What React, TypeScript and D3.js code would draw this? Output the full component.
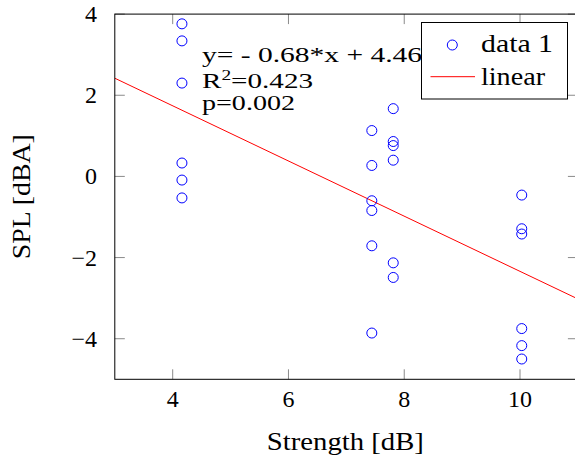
import React from "react";
import * as d3 from "d3";

const strength: number[] = [
  4.16, 4.16, 4.16, 4.16, 4.16, 4.16,
  7.44, 7.44, 7.44, 7.44, 7.44, 7.44,
  7.81, 7.81, 7.81, 7.81, 7.81, 7.81,
  10.03, 10.03, 10.03, 10.03, 10.03, 10.03,
];
const spl: number[] = [
  3.76, 3.34, 2.3, 0.33, -0.09, -0.53,
  1.13, 0.27, -0.6, -0.84, -1.71, -3.86,
  1.67, 0.86, 0.76, 0.4, -2.13, -2.49,
  -0.46, -1.29, -1.42, -3.75, -4.17, -4.5,
];
const slope = -0.68;
const intercept = 4.46;
const xTicks: number[] = [4, 6, 8, 10];
const yTicks: number[] = [-4, -2, 0, 2, 4];
const annotationLines: string[] = ["y= - 0.68*x + 4.46", "R", "p=0.002"];
const legendLabels: string[] = ["data 1", "linear"];

const W = 575;
const H = 463;
const FONT = "Liberation Serif, DejaVu Serif, serif";

export default function App() {
  const x = d3.scaleLinear().domain([3, 11]).range([114.8, 577.9]);
  const y = d3.scaleLinear().domain([-5, 4]).range([379.3, 14.1]);
  const [x0, x1] = x.range();
  const [yb, yt] = y.range();
  const lineGen = d3
    .line<number>()
    .x((d) => x(d))
    .y((d) => y(slope * d + intercept));
  const fmt = (v: number) => (v < 0 ? "\u2212" + Math.abs(v) : String(v));
  const tickLen = 10;
  const ts: React.CSSProperties = { fontFamily: FONT };

  return (
    <svg
      width={W}
      height={H}
      style={{ position: "absolute", left: 0, top: 0, background: "#fff", fontFamily: FONT }}
    >
      <defs>
        <clipPath id="plotclip">
          <rect x={x0} y={yt} width={x1 - x0} height={yb - yt} />
        </clipPath>
      </defs>
      <rect x={0} y={0} width={W} height={H} fill="#fff" />

      {/* ticks */}
      {xTicks.map((t) => (
        <g key={"xt" + t} stroke="#8a8a8a" strokeWidth={1}>
          <line x1={x(t)} x2={x(t)} y1={yb} y2={yb - tickLen} />
          <line x1={x(t)} x2={x(t)} y1={yt} y2={yt + tickLen} />
        </g>
      ))}
      {yTicks.map((t) => (
        <g key={"yt" + t} stroke="#8a8a8a" strokeWidth={1}>
          <line x1={x0} x2={x0 + tickLen} y1={y(t)} y2={y(t)} />
          <line x1={x1} x2={x1 - tickLen} y1={y(t)} y2={y(t)} />
        </g>
      ))}

      {/* regression line */}
      <path
        d={lineGen(x.domain()) || ""}
        stroke="#ff0000"
        strokeWidth={1}
        fill="none"
        clipPath="url(#plotclip)"
      />

      {/* data points */}
      {strength.map((s, i) => (
        <circle
          key={"p" + i}
          cx={x(s)}
          cy={y(spl[i])}
          r={5}
          fill="none"
          stroke="#0000ff"
          strokeWidth={1}
        />
      ))}

      {/* axes box */}
      <rect
        x={x0}
        y={yt}
        width={x1 - x0}
        height={yb - yt}
        fill="none"
        stroke="#000"
        strokeWidth={1}
      />

      {/* annotation */}
      <g fontSize={21} fill="#000" style={ts}>
        <text x={202} y={61.5} textLength={220} lengthAdjust="spacingAndGlyphs" style={ts}>
          {annotationLines[0]}
        </text>
        <text x={202} y={87.5} textLength={111} lengthAdjust="spacingAndGlyphs" style={ts}>
          {annotationLines[1]}
          <tspan fontSize={14} dy={-8}>2</tspan>
          <tspan dy={8}>=0.423</tspan>
        </text>
        <text x={202} y={110} textLength={93} lengthAdjust="spacingAndGlyphs" style={ts}>
          {annotationLines[2]}
        </text>
      </g>

      {/* legend */}
      <g>
        <rect x={421.5} y={22.5} width={146} height={76.5} fill="#fff" stroke="#000" strokeWidth={1} />
        <circle cx={452.3} cy={45} r={5} fill="none" stroke="#0000ff" strokeWidth={1} />
        <line x1={430.5} x2={475} y1={76.7} y2={76.7} stroke="#ff0000" strokeWidth={1} />
        <text x={481} y={51.5} fontSize={25} textLength={72} lengthAdjust="spacingAndGlyphs" style={ts}>
          {legendLabels[0]}
        </text>
        <text x={481} y={84.5} fontSize={25} textLength={64} lengthAdjust="spacingAndGlyphs" style={ts}>
          {legendLabels[1]}
        </text>
      </g>

      {/* tick labels */}
      {xTicks.map((t) => (
        <text key={"xl" + t} x={x(t)} y={406.7} fontSize={24} textAnchor="middle" style={ts}>
          {fmt(t)}
        </text>
      ))}
      {yTicks.map((t) => (
        <text key={"yl" + t} x={97} y={y(t) + 8} fontSize={24} textAnchor="end" style={ts}>
          {fmt(t)}
        </text>
      ))}

      {/* axis labels */}
      <text
        x={(x0 + x1) / 2 - 1}
        y={449.5}
        fontSize={25}
        textAnchor="middle"
        textLength={157}
        lengthAdjust="spacingAndGlyphs"
        style={ts}
      >
        Strength [dB]
      </text>
      <text
        transform={`translate(30,${(yt + yb) / 2}) rotate(-90)`}
        fontSize={25}
        textAnchor="middle"
        textLength={125}
        lengthAdjust="spacingAndGlyphs"
        style={ts}
      >
        SPL [dBA]
      </text>
    </svg>
  );
}
